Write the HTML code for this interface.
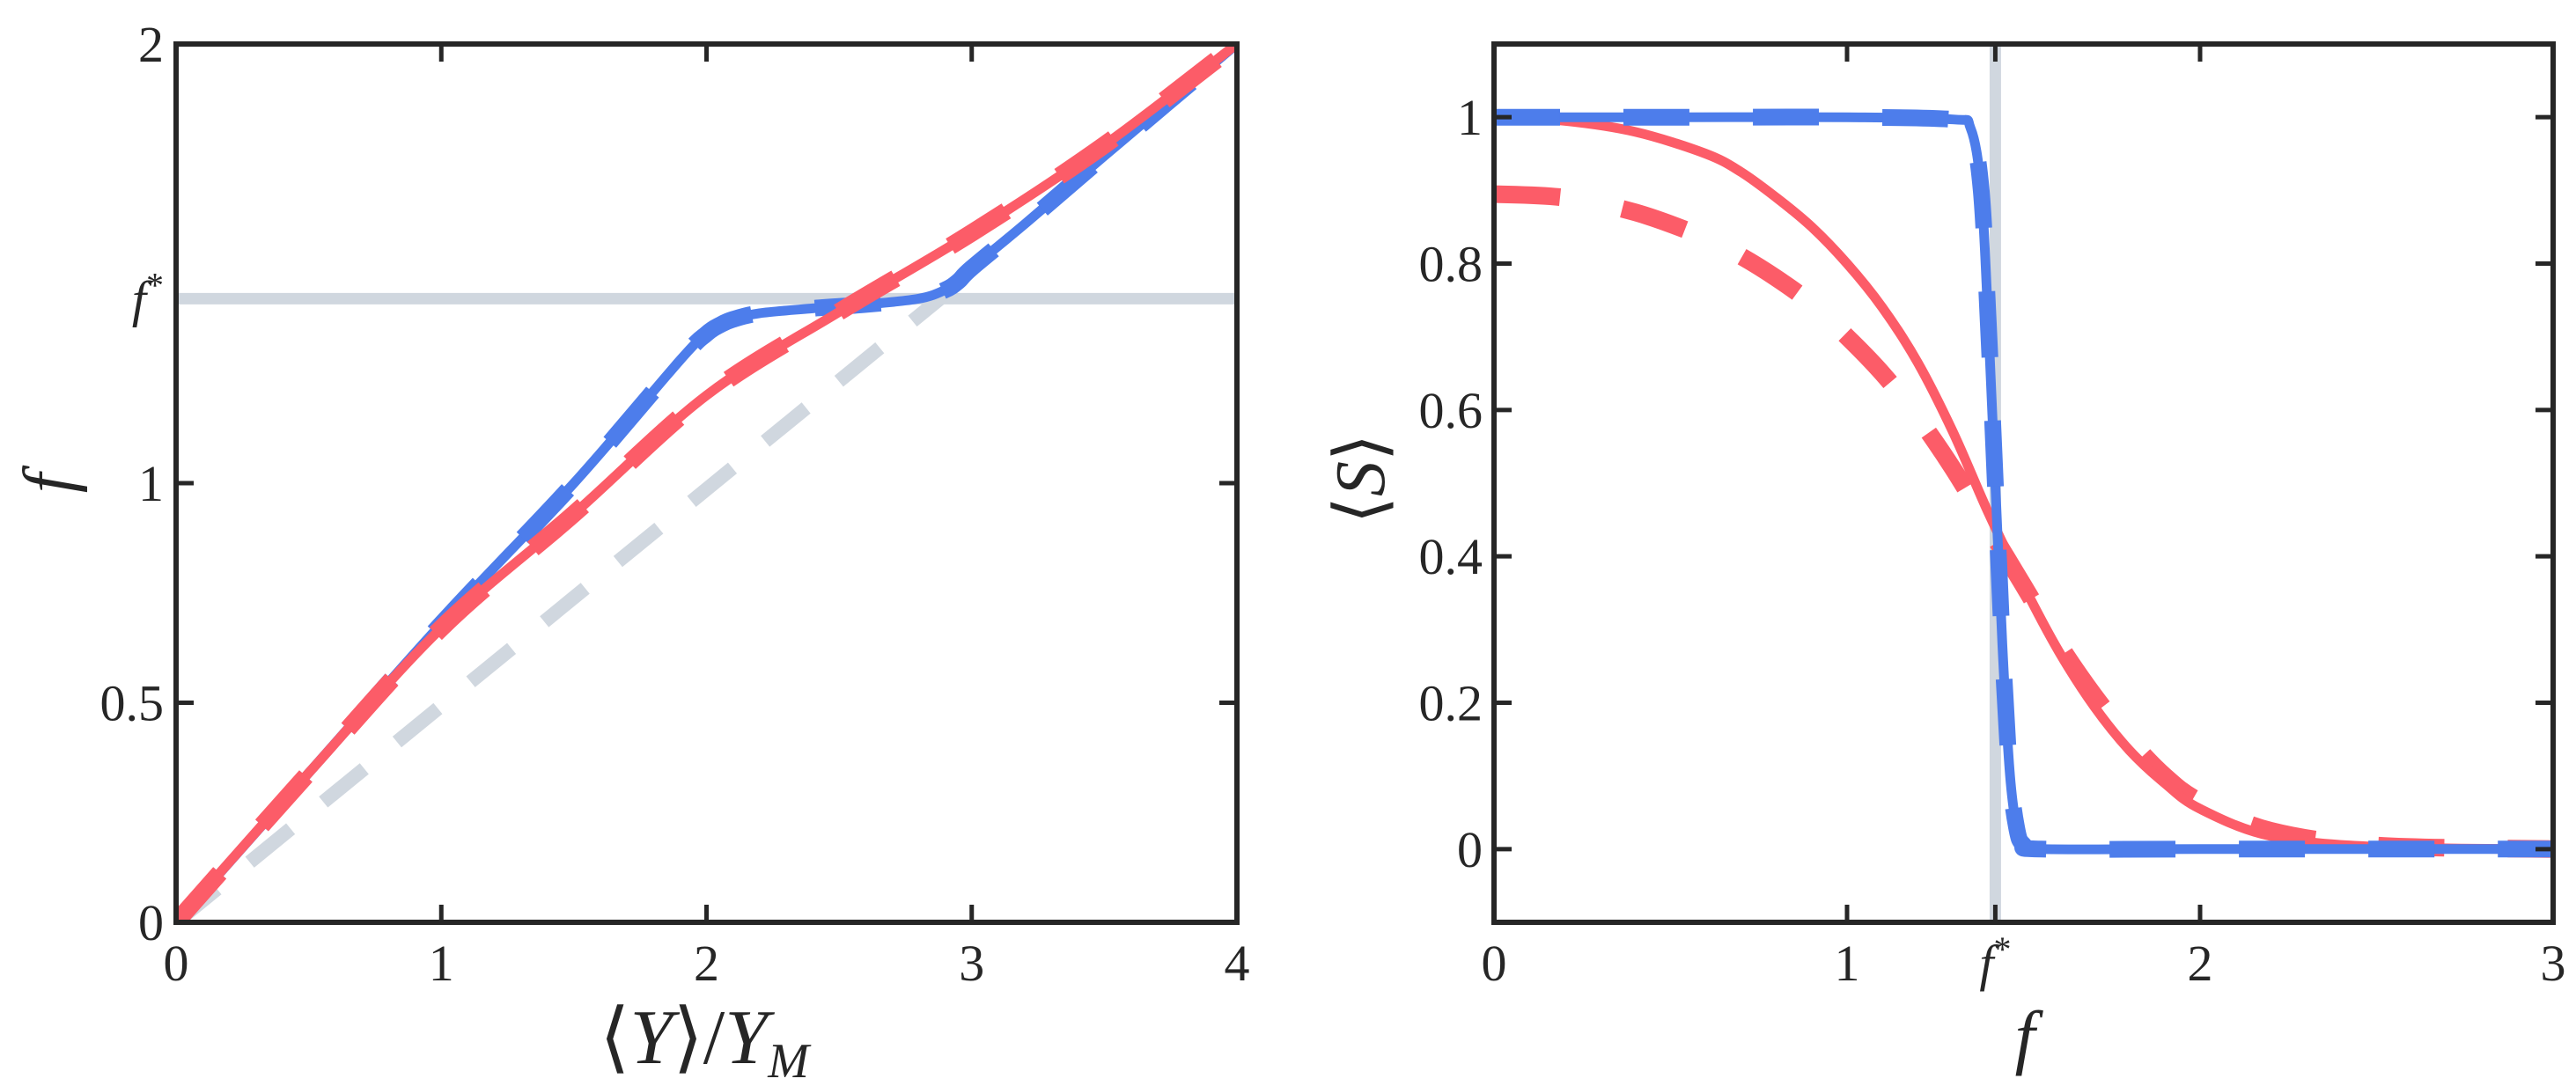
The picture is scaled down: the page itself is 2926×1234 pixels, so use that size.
<!DOCTYPE html>
<html><head><meta charset="utf-8">
<style>
html,body{margin:0;padding:0;background:#fff;}
svg{display:block;font-family:"Liberation Serif",serif;}
</style></head>
<body>
<svg id="fig" width="2926" height="1234" viewBox="0 0 2926 1234" xmlns="http://www.w3.org/2000/svg">
<defs>
<clipPath id="clipL"><rect x="200" y="50" width="1205" height="998"/></clipPath>
<clipPath id="clipR"><rect x="1697" y="50" width="1203" height="998"/></clipPath>
</defs>
<g id="left"></g>
<g id="right"></g>
</svg>
<script>
// ---- Left panel data ----
const leftBlueY = [0,0.5,1,1.5,1.9,2.0,2.05,2.1,2.2,2.4,2.6,2.8,2.9,2.95,3.0,3.2,3.5,4];
const leftBlueF = [0,0.34,0.68,1.0,1.28,1.34,1.36,1.373,1.387,1.398,1.407,1.42,1.44,1.46,1.49,1.59,1.745,2.0];
const leftRedY = [0,0.5,1,1.5,2,2.5,3,3.5,4];
const leftRedF = [0,0.34,0.67,0.93,1.2,1.39,1.57,1.77,2.0];
const leftGrayY = [0,2.88];
const leftGrayF = [0,1.42];
const fStar = 1.42;
const leftXTicks = [0,1,2,3,4];
const leftYTicks = [0,0.5,1,2];
const leftYTickLabels = ["0","0.5","1","2"];
// ---- Right panel data ----
const rightBlueF = [0,0.5,1,1.3,1.35,1.38,1.4,1.42,1.44,1.46,1.48,1.5,1.55,2,3];
const rightBlueS = [1,1,1,0.997,0.985,0.9,0.72,0.5,0.28,0.11,0.03,0.006,0,0,0];
const rightRedF = [0,0.2,0.4,0.6,0.7,0.8,0.9,1.0,1.1,1.2,1.3,1.4,1.5,1.6,1.7,1.8,1.9,2.0,2.2,2.5,3];
const rightRedS = [1,0.995,0.98,0.95,0.925,0.89,0.85,0.8,0.74,0.665,0.57,0.46,0.36,0.27,0.195,0.135,0.09,0.055,0.018,0.003,0];
const rightRedDashS = [0.895,0.89,0.87,0.835,0.81,0.78,0.745,0.7,0.65,0.59,0.52,0.44,0.36,0.28,0.21,0.15,0.1,0.065,0.025,0.005,0];
const rightXTicks = [0,1,2,3];
const rightYTicks = [0,0.2,0.4,0.6,0.8,1];
const rightYTickLabels = ["0","0.2","0.4","0.6","0.8","1"];

const NS="http://www.w3.org/2000/svg";
const BLUE="#4d7deb", RED="#fc5c68", GRAY="#d0d7df", INK="#262626";
function el(tag,attrs,parent){const e=document.createElementNS(NS,tag);for(const k in attrs)e.setAttribute(k,attrs[k]);parent.appendChild(e);return e;}
function path(xs,ys,sx,sy){
  const p=xs.map((x,i)=>[sx(x),sy(ys[i])]);
  if(p.length<3) return "M"+p.map(q=>q[0].toFixed(1)+","+q[1].toFixed(1)).join("L");
  let d="M"+p[0][0].toFixed(1)+","+p[0][1].toFixed(1);
  for(let i=0;i<p.length-1;i++){
    const p0=p[i-1]||p[i],p1=p[i],p2=p[i+1],p3=p[i+2]||p[i+1];
    const c1=[p1[0]+(p2[0]-p0[0])/6,p1[1]+(p2[1]-p0[1])/6];
    const c2=[p2[0]-(p3[0]-p1[0])/6,p2[1]-(p3[1]-p1[1])/6];
    d+="C"+c1[0].toFixed(1)+","+c1[1].toFixed(1)+" "+c2[0].toFixed(1)+","+c2[1].toFixed(1)+" "+p2[0].toFixed(1)+","+p2[1].toFixed(1);
  }
  return d;
}
function txt(parent,x,y,s,size,anchor,style){const t=el("text",{x:x,y:y,"font-size":size,"text-anchor":anchor||"middle",fill:INK},parent);if(style)t.setAttribute("font-style",style);t.textContent=s;return t;}

// ===== LEFT =====
const L=document.getElementById("left");
const lx=v=>200+v*(1405-200)/4, ly=v=>1048-v*(1048-50)/2;
const gl=el("g",{"clip-path":"url(#clipL)"},L);
let e;
e=el("line",{x1:200,x2:1405,y1:ly(fStar),y2:ly(fStar),stroke:GRAY,"stroke-width":13},gl);


e=el("path",{d:path(leftGrayY,leftGrayF,lx,ly),fill:"none",stroke:GRAY,"stroke-width":16,"stroke-dasharray":"60 48"},gl);


e=el("path",{d:path(leftBlueY,leftBlueF,lx,ly),fill:"none",stroke:BLUE,"stroke-width":11,"stroke-linejoin":"round"},gl);


e=el("path",{d:path(leftBlueY,leftBlueF,lx,ly),fill:"none",stroke:BLUE,"stroke-width":19,"stroke-dasharray":"75 72"},gl);


e=el("path",{d:path(leftRedY,leftRedF,lx,ly),fill:"none",stroke:RED,"stroke-width":11},gl);


e=el("path",{d:path(leftRedY,leftRedF,lx,ly),fill:"none",stroke:RED,"stroke-width":20,"stroke-dasharray":"75 72"},gl);


e=el("rect",{x:200,y:50,width:1205,height:998,fill:"none",stroke:INK,"stroke-width":6},L);


leftXTicks.forEach(v=>{
  el("line",{x1:lx(v),x2:lx(v),y1:1048,y2:1028,stroke:INK,"stroke-width":5},L);
  el("line",{x1:lx(v),x2:lx(v),y1:50,y2:70,stroke:INK,"stroke-width":5},L);
  const t=txt(L,lx(v),1114,String(v),58);
  
  
});
leftYTicks.forEach((v,i)=>{
  el("line",{x1:200,x2:220,y1:ly(v),y2:ly(v),stroke:INK,"stroke-width":5},L);
  el("line",{x1:1405,x2:1385,y1:ly(v),y2:ly(v),stroke:INK,"stroke-width":5},L);
  const t=txt(L,186,ly(v)+20,leftYTickLabels[i],58,"end");
  
  
});
e=txt(L,186,ly(fStar)+20,"",58,"end","italic");
e.innerHTML='f<tspan font-size="40" dy="-22" font-style="normal">*</tspan>';


e=txt(L,0,0,"f",80,"middle","italic");
e.setAttribute("transform","translate(82,549) rotate(-90)");


e=txt(L,800,1208,"",88,"middle");
e.innerHTML='⟨<tspan font-style="italic">Y</tspan>⟩/<tspan font-style="italic">Y</tspan><tspan font-style="italic" font-size="56" dy="16">M</tspan>';



// ===== RIGHT =====
const R=document.getElementById("right");
const rx=v=>1697+v*(2900-1697)/3, ry=v=>1048-(v+0.1)*(1048-50)/1.2;
const gr=el("g",{"clip-path":"url(#clipR)"},R);
e=el("line",{x1:rx(fStar),x2:rx(fStar),y1:50,y2:1048,stroke:GRAY,"stroke-width":13},gr);


e=el("path",{d:path(rightRedF,rightRedDashS,rx,ry),fill:"none",stroke:RED,"stroke-width":20,"stroke-dasharray":"75 72"},gr);


e=el("path",{d:path(rightRedF,rightRedS,rx,ry),fill:"none",stroke:RED,"stroke-width":11},gr);


e=el("path",{d:path(rightBlueF,rightBlueS,rx,ry),fill:"none",stroke:BLUE,"stroke-width":11},gr);


e=el("path",{d:path(rightBlueF,rightBlueS,rx,ry),fill:"none",stroke:BLUE,"stroke-width":19,"stroke-dasharray":"75 72"},gr);


e=el("rect",{x:1697,y:50,width:1203,height:998,fill:"none",stroke:INK,"stroke-width":6},R);


rightXTicks.concat([fStar]).forEach(v=>{
  el("line",{x1:rx(v),x2:rx(v),y1:1048,y2:1028,stroke:INK,"stroke-width":5},R);
  el("line",{x1:rx(v),x2:rx(v),y1:50,y2:70,stroke:INK,"stroke-width":5},R);
});
rightXTicks.forEach(v=>{
  const t=txt(R,rx(v),1114,String(v),58);
  
  
});
e=txt(R,rx(fStar),1114,"",58,"middle","italic");
e.innerHTML='f<tspan font-size="40" dy="-22" font-style="normal">*</tspan>';


rightYTicks.forEach((v,i)=>{
  el("line",{x1:1697,x2:1717,y1:ry(v),y2:ry(v),stroke:INK,"stroke-width":5},R);
  el("line",{x1:2900,x2:2880,y1:ry(v),y2:ry(v),stroke:INK,"stroke-width":5},R);
  const t=txt(R,1684,ry(v)+20,rightYTickLabels[i],58,"end");
  
  
});
e=txt(R,0,0,"",80,"middle");
e.innerHTML='⟨<tspan font-style="italic">S</tspan>⟩';
e.setAttribute("transform","translate(1572,544) rotate(-90)");


e=txt(R,2300,1205,"f",82,"middle","italic");


</script>
</body></html>
